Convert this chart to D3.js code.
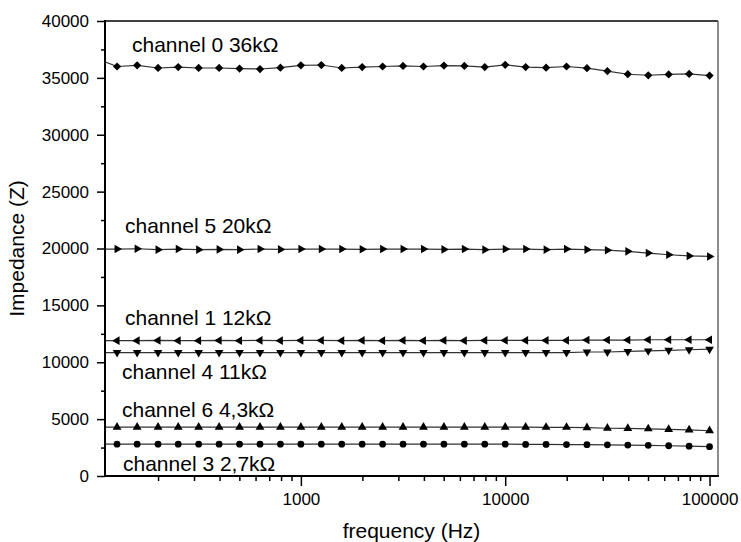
<!DOCTYPE html>
<html>
<head>
<meta charset="utf-8">
<script src="https://cdn.jsdelivr.net/npm/d3@7"></script>
<style>
  body { margin: 0; background: #fff; }
  text { font-family: "Liberation Sans", Arial, sans-serif; fill: #000; }
</style>
</head>
<body>
<svg id="chart" width="741" height="542"></svg>
<script>
// frequencies (Hz), 10 points per decade
let freqs = [100, 126, 158, 200, 251, 316, 398, 501, 631, 794,
  1000, 1259, 1585, 1995, 2512, 3162, 3981, 5012, 6310, 7943,
  10000, 12589, 15849, 19953, 25119, 31623, 39811, 50119, 63096, 79433, 100000]

let ch0 = [36700, 36000, 36100, 35870, 35950, 35870, 35870, 35820, 35780, 35900,
  36100, 36130, 35870, 35950, 36000, 36050, 36000, 36080, 36050, 35950,
  36150, 35950, 35900, 36000, 35850, 35600, 35320, 35230, 35300, 35350, 35200]
let ch5 = [19950, 19950, 19980, 19900, 19950, 19900, 19920, 19900, 19950, 19920,
  19950, 19950, 19950, 19930, 19950, 19950, 19950, 19920, 19950, 19900,
  19950, 19950, 19900, 19950, 19900, 19850, 19750, 19600, 19450, 19350, 19300]
let ch1 = [11900, 11900, 11900, 11920, 11900, 11900, 11920, 11900, 11920, 11900,
  11920, 11920, 11900, 11920, 11900, 11920, 11900, 11920, 11900, 11920,
  11920, 11920, 11920, 11920, 11950, 11950, 11950, 11980, 11980, 11980, 11980]
let ch4 = [10850, 10850, 10850, 10850, 10850, 10850, 10850, 10850, 10850, 10850,
  10850, 10850, 10850, 10850, 10850, 10850, 10850, 10850, 10850, 10850,
  10850, 10850, 10850, 10850, 10900, 10900, 10950, 11000, 11050, 11100, 11150]
let ch6 = [4300, 4300, 4300, 4300, 4300, 4300, 4300, 4300, 4300, 4300,
  4300, 4300, 4300, 4300, 4300, 4300, 4300, 4300, 4300, 4300,
  4300, 4300, 4280, 4280, 4250, 4200, 4180, 4150, 4100, 4050, 3980]
let ch3 = [2800, 2800, 2800, 2800, 2800, 2800, 2800, 2800, 2800, 2800,
  2800, 2800, 2800, 2800, 2800, 2800, 2800, 2800, 2800, 2800,
  2800, 2780, 2780, 2760, 2750, 2740, 2720, 2700, 2660, 2620, 2580]

let yTicks = [0, 5000, 10000, 15000, 20000, 25000, 30000, 35000, 40000]
let xTicks = [1000, 10000, 100000]

let width = 741, height = 542
let margin = { top: 21, right: 23, bottom: 66, left: 105 }

let svg = d3.select("#chart")

let x = d3.scaleLog()
  .domain([110, 110000])
  .range([margin.left, width - margin.right])

let y = d3.scaleLinear()
  .domain([0, 40000])
  .range([height - margin.bottom, margin.top])

// clip so the 100 Hz point stays outside
svg.append("clipPath").attr("id", "plot-clip")
  .append("rect")
  .attr("x", x.range()[0]).attr("y", 0)
  .attr("width", x.range()[1] - x.range()[0])
  .attr("height", y.range()[0])

// series: values, marker type, rotation, label, label pos
let series = [
  { vals: ch0, sym: d3.symbolSquare, rot: 45, size: 34, label: "channel 0 36kΩ", lx: 132, ly: 52 },
  { vals: ch5, sym: d3.symbolTriangle, rot: 90, size: 32, label: "channel 5 20kΩ", lx: 125, ly: 233 },
  { vals: ch1, sym: d3.symbolTriangle, rot: -90, size: 32, label: "channel 1 12kΩ", lx: 125, ly: 325 },
  { vals: ch4, sym: d3.symbolTriangle, rot: 180, size: 32, label: "channel 4 11kΩ", lx: 122, ly: 379 },
  { vals: ch6, sym: d3.symbolTriangle, rot: 0, size: 34, label: "channel 6 4,3kΩ", lx: 122, ly: 417 },
  { vals: ch3, sym: d3.symbolCircle, rot: 0, size: 36, label: "channel 3 2,7kΩ", lx: 123, ly: 471 }
]

let line = d3.line()
  .x(d => x(d.f))
  .y(d => y(d.v))

let plot = svg.append("g").attr("clip-path", "url(#plot-clip)")

series.forEach(function (s) {
  let pts = freqs.map((f, i) => ({ f: f, v: s.vals[i] }))

  plot.append("path")
    .attr("d", line(pts))
    .style("fill", "none")
    .style("stroke", "#333")
    .style("stroke-width", 1.2)

  plot.selectAll(null)
    .data(pts)
    .join("path")
    .attr("d", d3.symbol().type(s.sym).size(s.size))
    .attr("transform", d => `translate(${x(d.f)},${y(d.v)}) rotate(${s.rot})`)
    .attr("fill", "#000")

  svg.append("text")
    .attr("x", s.lx)
    .attr("y", s.ly)
    .text(s.label)
    .style("font-size", "21px")
})

// y axis, major + minor
let yAxis = svg.append("g")
  .attr("transform", `translate(${margin.left},0)`)
  .call(d3.axisLeft(y).tickValues(yTicks).tickSize(8).tickPadding(8).tickFormat(d3.format("d")))
yAxis.select(".domain").remove()
yAxis.selectAll("line").style("stroke", "#000").style("stroke-width", 1.5)
yAxis.selectAll("text").style("font-size", "17px").style("font-family", "'Liberation Sans', Arial, sans-serif")

let yMinor = svg.append("g")
  .attr("transform", `translate(${margin.left},0)`)
  .call(d3.axisLeft(y).tickValues(d3.range(2500, 40000, 5000)).tickSize(4).tickFormat(""))
yMinor.select(".domain").remove()
yMinor.selectAll("line").style("stroke", "#000").style("stroke-width", 1.5)

// x axis, major + minor
let xAxis = svg.append("g")
  .attr("transform", `translate(0,${y(0)})`)
  .call(d3.axisBottom(x).tickValues(xTicks).tickSize(10).tickPadding(7).tickFormat(d3.format("d")))
xAxis.select(".domain").remove()
xAxis.selectAll("line").style("stroke", "#000").style("stroke-width", 1.5)
xAxis.selectAll("text").style("font-size", "17px").style("font-family", "'Liberation Sans', Arial, sans-serif")

let minorX = x.ticks().filter(t => xTicks.indexOf(t) < 0)
let xMinor = svg.append("g")
  .attr("transform", `translate(0,${y(0)})`)
  .call(d3.axisBottom(x).tickValues(minorX).tickSize(5).tickFormat(""))
xMinor.select(".domain").remove()
xMinor.selectAll("line").style("stroke", "#000").style("stroke-width", 1.5)

// frame
let x0 = x.range()[0], x1 = x.range()[1], yb = y(0), yt = y(40000)
svg.append("line").attr("x1", x0).attr("x2", x1).attr("y1", yt).attr("y2", yt)
  .style("stroke", "#000").style("stroke-width", 1.5)
svg.append("line").attr("x1", x1).attr("x2", x1).attr("y1", yt).attr("y2", yb)
  .style("stroke", "#666").style("stroke-width", 1.5)
svg.append("line").attr("x1", x0).attr("x2", x0).attr("y1", yt - 1).attr("y2", yb + 1)
  .style("stroke", "#000").style("stroke-width", 2)
svg.append("line").attr("x1", x0 - 1).attr("x2", x1 + 1).attr("y1", yb).attr("y2", yb)
  .style("stroke", "#000").style("stroke-width", 2)

// axis titles
svg.append("text")
  .attr("x", (x0 + x1) / 2)
  .attr("y", 538)
  .attr("text-anchor", "middle")
  .text("frequency (Hz)")
  .style("font-size", "21px")

svg.append("text")
  .attr("transform", `translate(24,${(yt + yb) / 2}) rotate(-90)`)
  .attr("text-anchor", "middle")
  .text("Impedance (Z)")
  .style("font-size", "21px")
</script>
</body>
</html>
